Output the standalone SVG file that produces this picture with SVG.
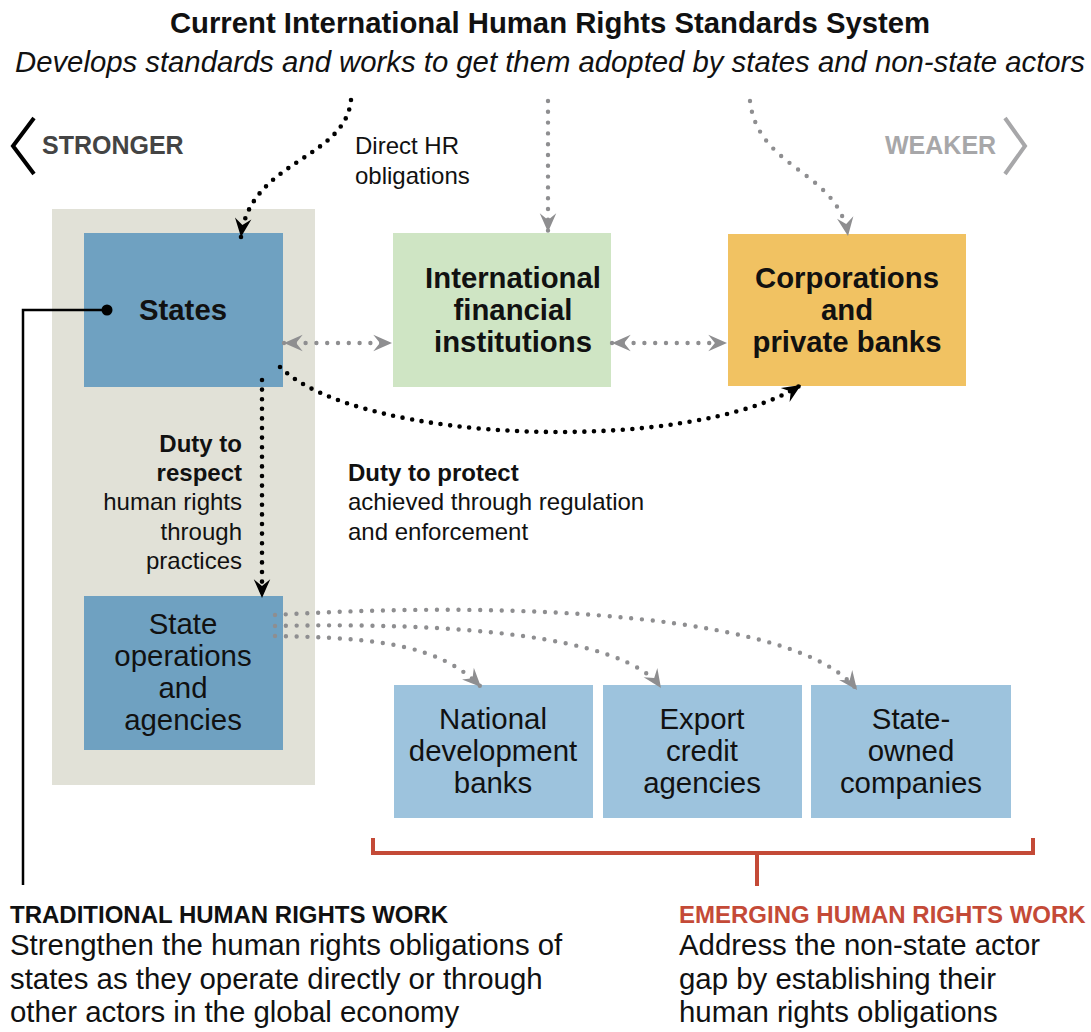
<svg xmlns="http://www.w3.org/2000/svg" width="1091" height="1032" viewBox="0 0 1091 1032">
  <style>
    text { font-family: "Liberation Sans", Arial, Helvetica, sans-serif; fill: #111; }
    .title { font-size: 29.3px; font-weight: bold; text-anchor: middle; }
    .sub { font-size: 29.3px; font-style: italic; text-anchor: middle; }
    .box-b { font-size: 29.3px; font-weight: bold; text-anchor: middle; }
    .box-r { font-size: 29.4px; text-anchor: middle; }
    .lbl { font-size: 24px; }
    .lbl-b { font-size: 24px; font-weight: bold; }
    .head { font-size: 24px; font-weight: bold; }
    .body { font-size: 29.4px; }
    .dot-k { fill: none; stroke: #000; stroke-width: 4.6; stroke-linecap: round; stroke-dasharray: 0 9.6; }
    .dot-g { fill: none; stroke: #8e8e90; stroke-width: 4.4; stroke-linecap: round; stroke-dasharray: 0 10.8; }
  </style>
  <defs>
    <marker id="ak" markerUnits="userSpaceOnUse" markerWidth="22" markerHeight="22" viewBox="-18 -9 20 18" refX="0" refY="0" orient="auto">
      <path d="M0,0 L-17,-7.5 L-11,0 L-17,7.5 Z" fill="#000"/>
    </marker>
    <marker id="ag" markerUnits="userSpaceOnUse" markerWidth="22" markerHeight="22" viewBox="-18 -9 20 18" refX="0" refY="0" orient="auto-start-reverse">
      <path d="M0,0 L-17,-7.5 L-11,0 L-17,7.5 Z" fill="#8e8e90"/>
    </marker>
  </defs>

  <rect width="1091" height="1032" fill="#fff"/>

  <!-- heading -->
  <text class="title" x="550" y="33">Current International Human Rights Standards System</text>
  <text class="sub" x="550" y="72">Develops standards and works to get them adopted by states and non-state actors</text>

  <!-- strength scale -->
  <g id="scale">
    <polyline points="34,118 13,146 34,174" fill="none" stroke="#000" stroke-width="4"/>
    <text class="lbl-b" x="42" y="154" style="fill:#444;font-size:25px">STRONGER</text>
    <text class="lbl-b" x="885" y="154" style="fill:#a7a7a9;font-size:25px">WEAKER</text>
    <polyline points="1005,118 1025,146 1005,174" fill="none" stroke="#a7a7a9" stroke-width="4"/>
  </g>

  <!-- state domain backdrop -->
  <rect id="state-domain" x="52" y="209" width="263" height="576" fill="#e1e1d7"/>

  <g id="states">
    <rect x="84" y="233" width="199" height="154" fill="#6fa1c1"/>
    <text class="box-b" x="183" y="320">States</text>
  </g>
  <g id="ifi">
    <rect x="393" y="233" width="218" height="154" fill="#cfe5c4"/>
    <text class="box-b" x="513" y="288">International</text>
    <text class="box-b" x="513" y="320">financial</text>
    <text class="box-b" x="513" y="352">institutions</text>
  </g>
  <g id="corporations">
    <rect x="728" y="234" width="238" height="152" fill="#f1c262"/>
    <text class="box-b" x="847" y="288">Corporations</text>
    <text class="box-b" x="847" y="320">and</text>
    <text class="box-b" x="847" y="352">private banks</text>
  </g>
  <g id="state-operations">
    <rect x="84" y="596" width="199" height="154" fill="#6fa1c1"/>
    <text class="box-r" x="183" y="634">State</text>
    <text class="box-r" x="183" y="666">operations</text>
    <text class="box-r" x="183" y="698">and</text>
    <text class="box-r" x="183" y="730">agencies</text>
  </g>
  <g id="development-banks">
    <rect x="394" y="685" width="199" height="133" fill="#9dc3dd"/>
    <text class="box-r" x="493" y="729">National</text>
    <text class="box-r" x="493" y="761">development</text>
    <text class="box-r" x="493" y="793">banks</text>
  </g>
  <g id="export-credit">
    <rect x="603" y="685" width="199" height="133" fill="#9dc3dd"/>
    <text class="box-r" x="702" y="729">Export</text>
    <text class="box-r" x="702" y="761">credit</text>
    <text class="box-r" x="702" y="793">agencies</text>
  </g>
  <g id="state-owned">
    <rect x="811" y="685" width="200" height="133" fill="#9dc3dd"/>
    <text class="box-r" x="911" y="729">State-</text>
    <text class="box-r" x="911" y="761">owned</text>
    <text class="box-r" x="911" y="793">companies</text>
  </g>

  <!-- connectors -->
  <g id="connectors">
    <path class="dot-k" d="M351,100 C345,160 250,160 241,237" marker-end="url(#ak)"/>
    <path class="dot-g" d="M548,101 L548,232" marker-end="url(#ag)"/>
    <path class="dot-g" d="M750,101 C758,170 838,170 848,236" marker-end="url(#ag)"/>
    <path class="dot-g" d="M284,343 L392,343" marker-start="url(#ag)" marker-end="url(#ag)"/>
    <path class="dot-g" d="M612,343 L727,343" marker-start="url(#ag)" marker-end="url(#ag)"/>
    <path class="dot-k" d="M280,367 C360,445 690,455 801,385" marker-end="url(#ak)"/>
    <path class="dot-k" d="M262,380 L262,598" marker-end="url(#ak)"/>
    <path class="dot-g" d="M275,636 C380,638 440,645 481,687" marker-end="url(#ag)"/>
    <path class="dot-g" d="M275,626 C450,622 625,635 661,688" marker-end="url(#ag)"/>
    <path class="dot-g" d="M275,615 C520,600 800,615 857,690" marker-end="url(#ag)"/>
    <!-- traditional work leader -->
    <polyline points="107,310 23,310 23,885" fill="none" stroke="#000" stroke-width="2.5"/>
    <circle cx="107" cy="310" r="5.5" fill="#000"/>
    <!-- emerging work bracket -->
    <path d="M373,838 L373,853 L1033,853 L1033,838 M757,853 L757,886" fill="none" stroke="#c44a37" stroke-width="4"/>
  </g>

  <!-- connector labels -->
  <g id="labels">
    <text class="lbl" x="355" y="154">Direct HR</text>
    <text class="lbl" x="355" y="184">obligations</text>
    <g style="text-anchor:end">
      <text class="lbl-b" x="242" y="452">Duty to</text>
      <text class="lbl-b" x="242" y="481">respect</text>
      <text class="lbl" x="242" y="510">human rights</text>
      <text class="lbl" x="242" y="540">through</text>
      <text class="lbl" x="242" y="569">practices</text>
    </g>
    <text class="lbl-b" x="348" y="481">Duty to protect</text>
    <text class="lbl" x="348" y="510">achieved through regulation</text>
    <text class="lbl" x="348" y="540">and enforcement</text>
  </g>

  <!-- summary texts -->
  <g id="traditional">
    <text class="head" x="10" y="923">TRADITIONAL HUMAN RIGHTS WORK</text>
    <text class="body" x="10" y="955">Strengthen the human rights obligations of</text>
    <text class="body" x="10" y="989">states as they operate directly or through</text>
    <text class="body" x="10" y="1022">other actors in the global economy</text>
  </g>
  <g id="emerging">
    <text class="head" x="679" y="923" style="fill:#c44a37">EMERGING HUMAN RIGHTS WORK</text>
    <text class="body" x="679" y="955">Address the non-state actor</text>
    <text class="body" x="679" y="989">gap by establishing their</text>
    <text class="body" x="679" y="1022">human rights obligations</text>
  </g>
</svg>
